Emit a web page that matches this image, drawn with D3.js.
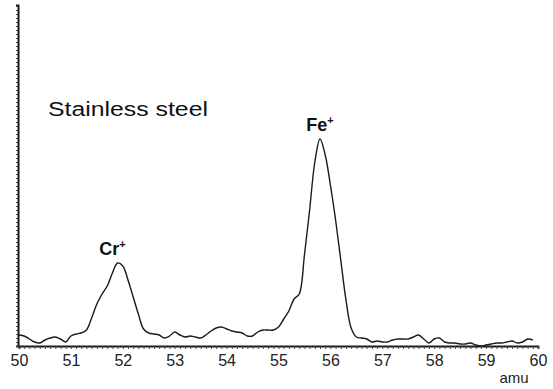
<!DOCTYPE html>
<html><head><meta charset="utf-8">
<script src="https://cdn.jsdelivr.net/npm/d3@7"></script>
<style>html,body{margin:0;padding:0;background:#fff;}svg{display:block;}</style>
</head><body>
<svg id="chart" width="553" height="389"></svg>
<script>
// mass axis (amu), sampled every 0.1
const massStart = 50.0, massStep = 0.1;
// intensity (arbitrary units)
const intensity = [
 11,10,7,4,3,6,8,9,7,4,
 10,12,13,16,28,42,52,60,73,83,
 80,66,49,32,17,13,12,11,8,10,
 14,11,9,10,9,8,11,15,18,19,
 17,15,14,13,10,10,14,16,16,16,
 19,27,35,47,52,91,136,184,207,191,
 161,126,86,46,18,9,8,7,4,5,
 4,4,6,7,7,7,9,11,7,3,
 7,8,4,3,3,2,2,3,1,0,
 1,2,3,3,4,5,3,4,7,6
];
const xTicks = [50,51,52,53,54,55,56,57,58,59,60];
const peakLabels = [{name:"Cr", mass:51.8, val:83}, {name:"Fe", mass:55.8, val:207}];
const sampleTitle = "Stainless steel";
const xUnit = "amu";

const svg = d3.select("#chart");
const x = d3.scaleLinear().domain([50,60]).range([19,538]);
const y = d3.scaleLinear().domain([0,341]).range([346,5]);
const data = intensity.map((v,i)=>({m: massStart + i*massStep, v}));

// trace
const line = d3.line().x(d=>x(d.m)).y(d=>y(d.v)).curve(d3.curveCatmullRom.alpha(0.5));
svg.append("path").datum(data).attr("d", line)
  .attr("fill","none").attr("stroke","#1a1a1a").attr("stroke-width",1.4);

// x axis
const xMinor = d3.range(0,101).map(i=>50+i*0.1);
svg.append("g").attr("transform","translate(0,346)")
  .call(d3.axisBottom(x).tickValues(xMinor).tickSize(3).tickFormat(""))
  .call(g=>{g.select(".domain").attr("stroke","#1a1a1a").attr("stroke-width",1.8);
            g.selectAll(".tick line").attr("stroke","#444");});
svg.append("g").attr("transform","translate(0,346)")
  .call(d3.axisBottom(x).tickValues(xTicks).tickSize(0).tickPadding(9).tickFormat(d3.format("d")))
  .call(g=>{g.select(".domain").remove();
            g.selectAll("text").attr("font-family","Liberation Sans, Arial, sans-serif")
             .attr("font-size",16).attr("fill","#222");});

// y axis
const yMinor = d3.range(0,342,4);
svg.append("g").attr("transform","translate(18,0)")
  .call(d3.axisLeft(y).tickValues(yMinor).tickSize(2).tickFormat(""))
  .call(g=>{g.select(".domain").attr("stroke","#1a1a1a").attr("stroke-width",2);
            g.selectAll(".tick line").attr("stroke","#444");});

// labels
const font = "Liberation Sans, Arial, sans-serif";
svg.append("text").attr("x",48).attr("y",116).attr("font-family",font)
  .attr("font-size",20).attr("textLength",160).attr("lengthAdjust","spacingAndGlyphs")
  .attr("fill","#111").text(sampleTitle);
peakLabels.forEach(p=>{
  const t = svg.append("text").attr("x",x(p.mass)).attr("y",y(p.val)-8)
    .attr("text-anchor","middle").attr("font-family",font).attr("font-weight","bold")
    .attr("font-size",18).attr("fill","#111");
  t.append("tspan").text(p.name);
  t.append("tspan").attr("font-size",11).attr("dy",-7).text("+");
});
svg.append("text").attr("x",514).attr("y",383).attr("text-anchor","middle")
  .attr("font-family",font).attr("font-size",15).attr("fill","#222").text(xUnit);
</script>
</body></html>
